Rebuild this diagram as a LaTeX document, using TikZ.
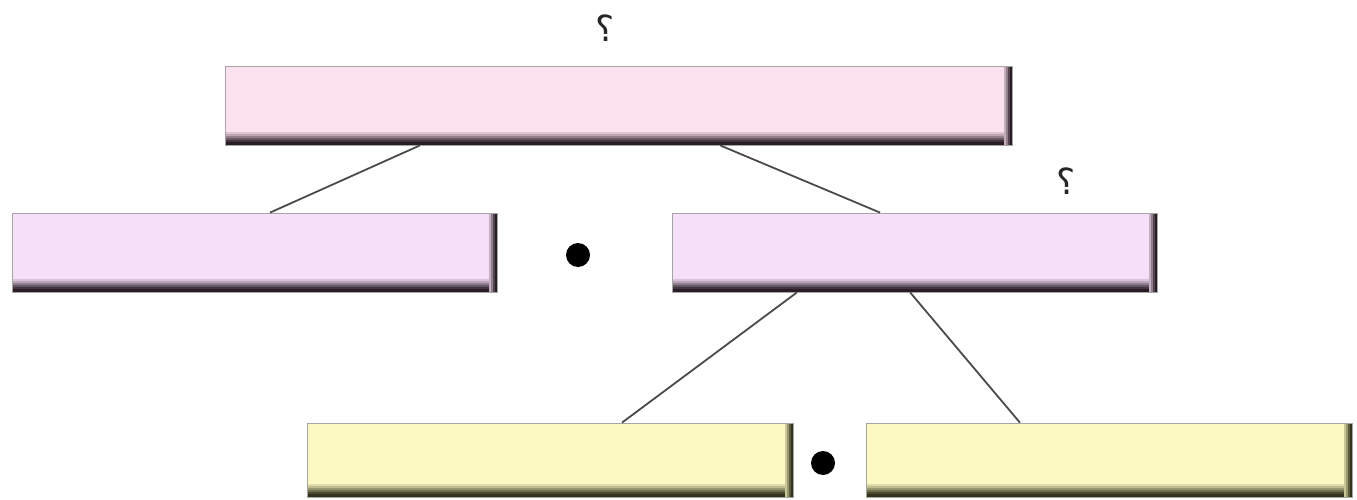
\documentclass[tikz,border=0pt]{standalone}
\usepackage{fontspec}
\TeXXeTstate=1
\newfontfamily\arabicfont[Script=Arabic]{DejaVu Sans}
\usetikzlibrary{calc}
\definecolor{pinkfill}{HTML}{FCE1EE}
\definecolor{lilacfill}{HTML}{F6DFF8}
\definecolor{yellowfill}{HTML}{FCFAC2}
\definecolor{edgedark}{HTML}{2A1E26}
\definecolor{edgeyel}{HTML}{34341C}
\definecolor{linecol}{HTML}{4A4A4A}
\tikzset{
  fancybox/.style 2 args={rectangle, inner sep=0pt, fill=#1,
    draw=gray!70, line width=0.8pt,
    path picture={
      \foreach \off/\pct in {12/15,10/30,8/50,6/70,4/88,1.5/100}{
        \draw[#2!\pct!#1, line width=2.4pt]
          ([yshift=\off pt]path picture bounding box.south west) --
          ([yshift=\off pt]path picture bounding box.south east);
      }
      \foreach \off/\pct in {7/25,5/50,3/80,1.2/100}{
        \draw[#2!\pct!#1, line width=2.2pt]
          ([xshift=-\off pt]path picture bounding box.north east) --
          ([xshift=-\off pt]path picture bounding box.south east);
      }
      \draw[#2!70, line width=1.5pt]
        (path picture bounding box.north west) -- (path picture bounding box.south west);
    }},
  conn/.style={draw=linecol, line width=1.8pt},
  bigdot/.style={circle, fill=black, inner sep=0pt, minimum size=24pt},
  qmark/.style={inner sep=0pt, font=\arabicfont\fontsize{36}{40}\selectfont, text=black!85}
}
\begin{document}
\begin{tikzpicture}[x=1pt,y=-1pt]
\useasboundingbox (0,0) rectangle (1357,500);
% boxes
\node[fancybox={pinkfill}{edgedark}, minimum width=787pt, minimum height=79pt] (top) at (618.5,105.5) {};
\node[fancybox={lilacfill}{edgedark}, minimum width=485pt, minimum height=79pt] (midl) at (254.5,252.5) {};
\node[fancybox={lilacfill}{edgedark}, minimum width=485pt, minimum height=79pt] (midr) at (914.5,252.5) {};
\node[fancybox={yellowfill}{edgeyel}, minimum width=486pt, minimum height=74pt] (botl) at (550,460) {};
\node[fancybox={yellowfill}{edgeyel}, minimum width=486pt, minimum height=74pt] (botr) at (1109,460) {};
% dots
\node[bigdot] (dot1) at (578,255) {};
\node[bigdot] (dot2) at (823,463) {};
% question marks
\node[qmark] (q1) at (605,28) {\beginR ؟\endR};
\node[qmark] (q2) at (1066,181) {\beginR ؟\endR};
% connectors
\draw[conn] ($(top.south west)!0.248!(top.south east)$) -- ($(midl.north west)!0.532!(midl.north east)$);
\draw[conn] ($(top.south west)!0.629!(top.south east)$) -- ($(midr.north west)!0.429!(midr.north east)$);
\draw[conn] ($(midr.south west)!0.258!(midr.south east)$) -- ($(botl.north west)!0.648!(botl.north east)$);
\draw[conn] ($(midr.south west)!0.491!(midr.south east)$) -- ($(botr.north west)!0.317!(botr.north east)$);
\end{tikzpicture}
\end{document}
